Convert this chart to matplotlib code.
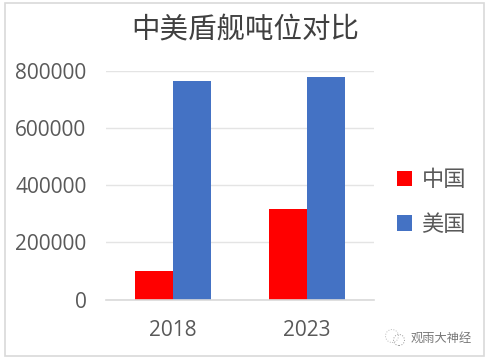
"""Grouped bar chart: China vs US cruiser/destroyer tonnage."""

import matplotlib

matplotlib.use("Agg")

import matplotlib.pyplot as plt
import numpy as np
from matplotlib.patches import Circle, Rectangle

CJK = ["Noto Sans CJK SC", "DejaVu Sans"]
TEXT = "#595959"

title = "中美盾舰吨位对比"
years = ["2018", "2023"]
china = [100000, 318000]
usa = [765000, 780000]
yticks = [0, 200000, 400000, 600000, 800000]

W, H = 486, 360

fig = plt.figure(figsize=(W / 100, H / 100), dpi=100)
fig.patch.set_facecolor("white")

# plot area placed in reference pixels
ax = fig.add_axes([106 / W, 1 - 299.5 / H, 268 / W, 228.5 / H])
x = np.arange(len(years))
bar_w = 38 / 134
b1 = ax.bar(x - bar_w / 2, china, bar_w, color="#ff0000", label="中国", zorder=3)
b2 = ax.bar(x + bar_w / 2, usa, bar_w, color="#4472c4", label="美国", zorder=3)

ax.set_xlim(-0.5, 1.5)
ax.set_ylim(0, 800000)
ax.set_xticks(x, years)
ax.set_yticks(yticks, [str(v) for v in yticks])
ax.tick_params(axis="both", length=0, labelcolor=TEXT, labelsize=15)
ax.tick_params(axis="x", pad=15)
ax.tick_params(axis="y", pad=14)
for lab in ax.get_xticklabels() + ax.get_yticklabels():
    lab.set_family("Open Sans")

ax.grid(axis="y", color="#e4e4e4", linewidth=1, zorder=0)
ax.set_axisbelow(True)
for name, sp in ax.spines.items():
    sp.set_visible(name == "bottom")
ax.spines["bottom"].set_color("#d9d9d9")
ax.spines["bottom"].set_linewidth(1.2)
ax.spines["bottom"].set_zorder(4)

fig.text(245 / W, 1 - 29 / H, title, ha="center", va="center",
         fontsize=20.5, color="#404040", family=CJK)

leg = fig.legend(
    handles=[b1, b2],
    loc="center left",
    bbox_to_anchor=(397 / W, 1 - 202 / H),
    frameon=False,
    borderpad=0,
    borderaxespad=0,
    prop={"family": CJK, "size": 16},
    labelcolor=TEXT,
    handlelength=0.68,
    handleheight=0.7,
    handletextpad=0.42,
    labelspacing=0.95,
)

# outer chart frame
fig.add_artist(Rectangle((4.5 / W, 1 - 356 / H), 479 / W, 353.5 / H,
                         transform=fig.transFigure, fill=False,
                         edgecolor="#d9d9d9", linewidth=1.2))

# watermark
fig.text(441 / W, 1 - 338 / H, "观雨大神经", ha="center", va="center",
         fontsize=8.8, color="#777777", family=CJK)
wm = fig.add_axes([384 / W, 1 - 347 / H, 24 / W, 20 / H])
wm.set_xlim(0, 24)
wm.set_ylim(0, 20)
wm.axis("off")
wm.add_patch(Circle((8, 11), 6.5, fill=False, ec="#bbbbbb", lw=0.7, ls=":"))
wm.add_patch(Circle((15, 7), 5.5, fill=False, ec="#999999", lw=0.7, ls=":"))

fig.savefig("out.png", dpi=100)
